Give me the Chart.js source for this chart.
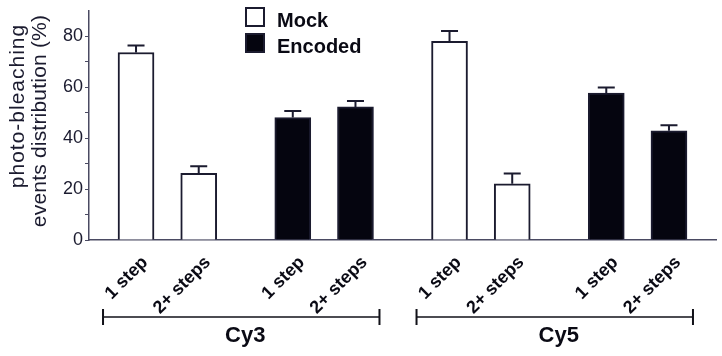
<!DOCTYPE html>
<html>
<head>
<meta charset="utf-8">
<script src="https://cdn.jsdelivr.net/npm/chart.js@4.4.1/dist/chart.umd.min.js"></script>
<style>
  html, body { margin: 0; padding: 0; background: #ffffff; }
  #wrap { width: 722px; height: 356px; position: relative; }
</style>
</head>
<body>
<div id="wrap"><canvas id="c" width="722" height="356"></canvas></div>
<script>
// ---- data ----
const groups = ['Cy3', 'Cy5'];
const categories = ['1 step', '2+ steps'];
const seriesNames = ['Mock', 'Encoded'];
const mockCy3 = [73.7, 26.2];
const mockCy3Err = [2.7, 2.8];
const encodedCy3 = [48.1, 52.3];
const encodedCy3Err = [2.6, 2.3];
const mockCy5 = [78.1, 22.1];
const mockCy5Err = [4.0, 4.0];
const encodedCy5 = [57.7, 42.9];
const encodedCy5Err = [2.2, 2.2];
const yTickLabels = [0, 20, 40, 60, 80];
const yTitle = ['photo-bleaching', 'events distribution (%)'];

// ---- build category slots (bars with spacer slots between) ----
const FONT = 'Arial, "Liberation Sans", Helvetica, sans-serif';
const INK = '#1b1b2f';
const AXIS = '#4a4a62';
const groupSeries = [
  [[mockCy3, mockCy3Err], [encodedCy3, encodedCy3Err]],
  [[mockCy5, mockCy5Err], [encodedCy5, encodedCy5Err]]
];
const labels = [''];
const mockData = [null], encodedData = [null];
const mockErr = [null], encodedErr = [null];
const groupSpans = [];
function pushGap() { labels.push(''); mockData.push(null); encodedData.push(null); mockErr.push(null); encodedErr.push(null); }
groupSeries.forEach((g, gi) => {
  const start = labels.length;
  g.forEach(([vals, errs], si) => {
    categories.forEach((cat, ci) => {
      labels.push(cat);
      mockData.push(si === 0 ? vals[ci] : null);
      encodedData.push(si === 1 ? vals[ci] : null);
      mockErr.push(si === 0 ? errs[ci] : null);
      encodedErr.push(si === 1 ? errs[ci] : null);
      const isLastOfGroup = (si === g.length - 1 && ci === categories.length - 1);
      const gapCount = (ci < categories.length - 1) ? 1 : (isLastOfGroup && gi === groupSeries.length - 1 ? 0 : 2);
      for (let k = 0; k < gapCount; k++) pushGap();
    });
  });
  let last = labels.length - 1;
  while (labels[last] === '') last--;
  groupSpans.push({ name: groups[gi], first: start, last: last });
});
pushGap();

const errorBarPlugin = {
  id: 'errorBars',
  afterDatasetsDraw(chart) {
    const ctx = chart.ctx;
    const y = chart.scales.y;
    chart.data.datasets.forEach((ds, di) => {
      const meta = chart.getDatasetMeta(di);
      meta.data.forEach((bar, i) => {
        const v = ds.data[i];
        const e = ds.errors[i];
        if (v == null || e == null) return;
        const yTop = y.getPixelForValue(v + e);
        const yBase = y.getPixelForValue(v);
        ctx.save();
        ctx.strokeStyle = INK;
        ctx.lineWidth = 2;
        ctx.beginPath();
        ctx.moveTo(bar.x, yBase);
        ctx.lineTo(bar.x, yTop);
        ctx.moveTo(bar.x - 8.5, yTop);
        ctx.lineTo(bar.x + 8.5, yTop);
        ctx.stroke();
        ctx.restore();
      });
    });
  }
};

const annotationPlugin = {
  id: 'annot',
  afterDraw(chart) {
    const ctx = chart.ctx;
    const x = chart.scales.x;
    const area = chart.chartArea;
    ctx.save();
    // y-axis title (two lines, rotated)
    ctx.fillStyle = INK;
    ctx.font = '21px ' + FONT;
    ctx.textAlign = 'center';
    ctx.textBaseline = 'middle';
    [[18, 106, yTitle[0], 1.0], [40, 121, yTitle[1], 0.2]].forEach(([cx, cy, txt, ls]) => {
      ctx.save();
      ctx.translate(cx, cy);
      ctx.rotate(-Math.PI / 2);
      if ('letterSpacing' in ctx) ctx.letterSpacing = ls + 'px';
      ctx.fillText(txt, 0, 0);
      ctx.restore();
    });
    // legend
    const items = [[seriesNames[0], '#ffffff'], [seriesNames[1], '#05050f']];
    items.forEach((it, k) => {
      const bx = 246, by = 8 + k * 26;
      ctx.fillStyle = it[1];
      ctx.fillRect(bx, by, 18, 18);
      ctx.strokeStyle = INK;
      ctx.lineWidth = 2;
      ctx.strokeRect(bx, by, 18, 18);
      ctx.fillStyle = '#0a0a14';
      ctx.font = 'bold 20px ' + FONT;
      ctx.textAlign = 'left';
      ctx.textBaseline = 'alphabetic';
      ctx.fillText(it[0], 277, by + 19);
    });
    // group brackets
    const ly = area.bottom + 77;
    groupSpans.forEach(gs => {
      const x1 = x.getPixelForValue(gs.first) - 33;
      const x2 = x.getPixelForValue(gs.last) + 24;
      ctx.strokeStyle = '#111118';
      ctx.lineWidth = 1.5;
      ctx.beginPath();
      ctx.moveTo(x1, ly); ctx.lineTo(x2, ly);
      ctx.stroke();
      ctx.lineWidth = 2;
      ctx.beginPath();
      ctx.moveTo(x1, ly - 8); ctx.lineTo(x1, ly + 8);
      ctx.moveTo(x2, ly - 8); ctx.lineTo(x2, ly + 8);
      ctx.stroke();
      ctx.fillStyle = '#0a0a14';
      ctx.font = 'bold 22px ' + FONT;
      ctx.textAlign = 'center';
      ctx.textBaseline = 'alphabetic';
      ctx.fillText(gs.name, (x1 + x2) / 2 + 4, ly + 25);
    });
    ctx.restore();
  }
};

new Chart(document.getElementById('c'), {
  type: 'bar',
  data: {
    labels: labels,
    datasets: [
      { label: seriesNames[0], data: mockData, errors: mockErr, backgroundColor: '#ffffff',
        borderColor: INK, borderWidth: 2, borderSkipped: 'bottom', grouped: false, barThickness: 36 },
      { label: seriesNames[1], data: encodedData, errors: encodedErr, backgroundColor: '#05050f',
        borderColor: INK, borderWidth: 2, borderSkipped: 'bottom', grouped: false, barThickness: 36 }
    ]
  },
  options: {
    responsive: false,
    animation: false,
    devicePixelRatio: 1,
    layout: { padding: { top: 3, right: 6, bottom: 40, left: 0 } },
    plugins: { legend: { display: false }, tooltip: { enabled: false } },
    scales: {
      x: {
        offset: true,
        grid: { display: false },
        border: { display: true, color: AXIS, width: 1.5 },
        ticks: {
          autoSkip: false, minRotation: 45, maxRotation: 45, padding: 4, labelOffset: 9,
          color: '#0a0a14', font: { family: FONT, size: 18, weight: 'bold' }
        },
        afterFit(s) { s.height = 76; }
      },
      y: {
        min: 0, max: 90,
        grid: {
          drawOnChartArea: false, drawTicks: true, tickLength: 4,
          color: AXIS,
          tickColor: (c) => (c.tick && c.tick.value >= 90 ? 'rgba(0,0,0,0)' : AXIS)
        },
        border: { display: true, color: AXIS, width: 1.5 },
        ticks: {
          stepSize: 10, padding: 2, color: INK,
          font: { family: FONT, size: 18, lineHeight: 1 },
          callback: (v) => (yTickLabels.includes(v) ? String(v) : '')
        },
        afterFit(s) { s.width = 89; }
      }
    }
  },
  plugins: [errorBarPlugin, annotationPlugin]
});
</script>
</body>
</html>
